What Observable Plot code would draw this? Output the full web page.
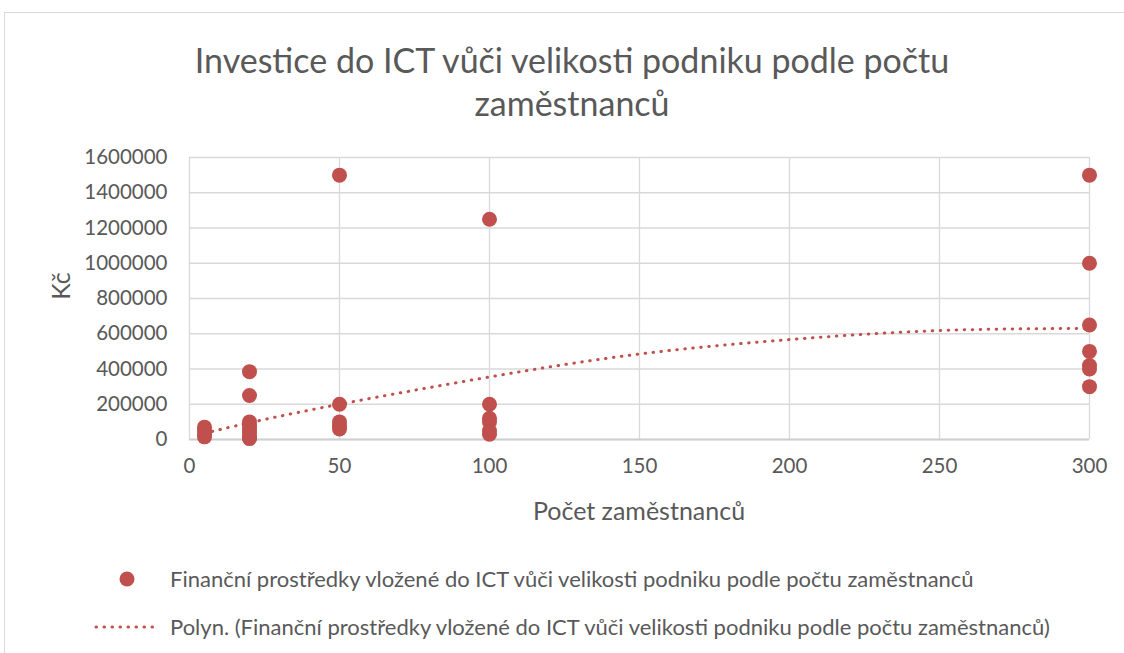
<!DOCTYPE html>
<html>
<head>
<meta charset="utf-8">
<script src="https://cdn.jsdelivr.net/npm/d3@7"></script>
<script src="https://cdn.jsdelivr.net/npm/@observablehq/plot@0.6"></script>
<style>
  html, body { margin: 0; padding: 0; background: #fff; }
  body { width: 1124px; height: 653px; position: relative; overflow: hidden; font-family: Lato, "Open Sans", sans-serif; color: #595959; }
  #frame { position: absolute; left: 4px; top: 12px; width: 1130px; height: 700px; border: 1px solid #d9d9d9; box-sizing: border-box; }
  #title { position: absolute; left: 0; width: 1144px; top: 38px; text-align: center; font-size: 34px; line-height: 43px; color: #595959; }
  #chart { position: absolute; left: 0; top: 0; }
  .axlab { position: absolute; font-size: 25px; line-height: 1; color: #595959; white-space: nowrap; }
  #ylab { left: 60px; top: 286px; transform: translate(-50%, -50%) rotate(-90deg); }
  #xlab { left: 639px; top: 510px; transform: translate(-50%, -50%); }
  .leg { position: absolute; left: 170px; font-size: 22px; line-height: 1; color: #595959; white-space: nowrap; transform: translateY(-50%); }
  #legsvg { position: absolute; left: 0; top: 550px; }
</style>
</head>
<body>
<div id="frame"></div>
<div id="title">Investice do ICT vůči velikosti podniku podle počtu<br>zaměstnanců</div>
<div id="chart"></div>
<div class="axlab" id="ylab">Kč</div>
<div class="axlab" id="xlab">Počet zaměstnanců</div>
<svg id="legsvg" width="200" height="100"></svg>
<div class="leg" id="leg1" style="top:579px">Finanční prostředky vložené do ICT vůči velikosti podniku podle počtu zaměstnanců</div>
<div class="leg" id="leg2" style="top:627px">Polyn. (Finanční prostředky vložené do ICT vůči velikosti podniku podle počtu zaměstnanců)</div>
<script>
// Scatter data: employees (x) and ICT investment in Kč (y)
const employees = [5, 5, 5, 5,
  20, 20, 20, 20, 20, 20, 20, 20, 20,
  50, 50, 50, 50, 50,
  100, 100, 100, 100, 100, 100,
  300, 300, 300, 300, 300, 300, 300];
const investment = [70000, 50000, 30000, 15000,
  385000, 250000, 100000, 80000, 60000, 40000, 20000, 10000, 5000,
  1500000, 200000, 100000, 80000, 60000,
  1250000, 200000, 120000, 100000, 50000, 30000,
  1500000, 1000000, 650000, 500000, 420000, 400000, 300000];
// Polynomial trend line
const trendX = [5, 20, 50, 100, 150, 200, 250, 300];
const trendY = [35000, 95000, 200000, 355000, 485000, 567000, 618000, 630000];
const xTicks = [0, 50, 100, 150, 200, 250, 300];
const yTicks = [0, 200000, 400000, 600000, 800000, 1000000, 1200000, 1400000, 1600000];

const points = employees.map((x, i) => ({x, y: investment[i]}));
const trend = trendX.map((x, i) => ({x, y: trendY[i]}));

const red = "#C0504D";
const H = 540;
const chart = Plot.plot({
  width: 1124,
  height: H,
  marginLeft: 189,
  marginRight: 35,
  marginTop: 157,
  marginBottom: H - 439,
  style: {fontFamily: "Lato, 'Open Sans', sans-serif", fontSize: "20.5px", color: "#595959", background: "transparent"},
  x: {domain: [0, 300], ticks: xTicks, tickSize: 0, tickPadding: 20, label: null, tickFormat: d3.format("d")},
  y: {domain: [0, 1600000], ticks: yTicks, tickSize: 0, tickPadding: 22, label: null, tickFormat: d3.format("d")},
  marks: [
    Plot.gridX(xTicks, {stroke: "#d9d9d9", strokeOpacity: 1, strokeWidth: 1.3}),
    Plot.gridY(yTicks, {stroke: "#d9d9d9", strokeOpacity: 1, strokeWidth: 1.3}),
    Plot.ruleY([0], {stroke: "#cfcfcf", strokeWidth: 1.8}),
    Plot.axisX({ticks: xTicks, tickSize: 0, tickPadding: 19, tickFormat: d3.format("d"), label: null}),
    Plot.axisY({ticks: yTicks, tickSize: 0, tickPadding: 22, tickFormat: d3.format("d"), label: null}),
    Plot.line(trend, {x: "x", y: "y", curve: "natural", stroke: red, strokeWidth: 3, strokeDasharray: "0.5 7.5", strokeLinecap: "round"}),
    Plot.dot(points, {x: "x", y: "y", r: 7.5, fill: red, stroke: "none"})
  ]
});
document.getElementById("chart").appendChild(chart);

// legend markers
const lg = d3.select("#legsvg");
lg.append("circle").attr("cx", 127).attr("cy", 29).attr("r", 7.5).attr("fill", red);
lg.append("line").attr("x1", 96).attr("x2", 160).attr("y1", 77).attr("y2", 77)
  .attr("stroke", red).attr("stroke-width", 3).attr("stroke-dasharray", "0.5 7.5").attr("stroke-linecap", "round");
</script>
</body>
</html>
